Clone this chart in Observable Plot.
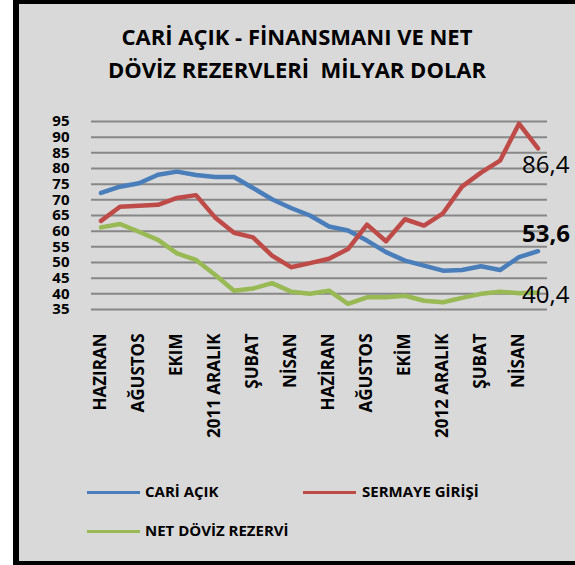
<!DOCTYPE html>
<html><head><meta charset="utf-8">
<script src="https://cdn.jsdelivr.net/npm/d3@7"></script>
<script src="https://cdn.jsdelivr.net/npm/@observablehq/plot@0.6"></script>
<style>
body{margin:0;background:#fff;}
#wrap{position:relative;width:575px;height:565px;overflow:hidden;background:#fff;font-family:"Open Sans",sans-serif;}
#panel{position:absolute;left:13px;top:0;width:562px;height:565px;background:#d9d9d9;box-sizing:border-box;border-top:4px solid #000;border-left:6px solid #000;border-bottom:4px solid #000;}
#title{position:absolute;left:19px;width:556px;top:20px;text-align:center;font-weight:700;font-size:22px;line-height:33px;color:#000;}
#chart{position:absolute;left:0;top:0;}
.leg{position:absolute;font-weight:700;font-size:15px;color:#000;white-space:nowrap;}
.sw{position:absolute;height:3px;width:53px;}
</style></head><body>
<div id="wrap"><div id="panel"></div>
<div id="title">CARİ AÇIK - FİNANSMANI VE NET<br>DÖVİZ REZERVLERİ&nbsp; MİLYAR DOLAR</div>
<div id="chart"></div>
<div class="sw" style="left:87px;top:491px;background:#4a7ebb"></div><div class="leg" style="left:145px;top:481px">CARİ AÇIK</div>
<div class="sw" style="left:303px;top:491px;background:#be4b48"></div><div class="leg" style="left:362px;top:481px">SERMAYE GİRİŞİ</div>
<div class="sw" style="left:87px;top:530px;background:#98b954"></div><div class="leg" style="left:145px;top:520px">NET DÖVİZ REZERVİ</div>
</div>
<script>
const months = ["HAZIRAN","TEMMUZ","AĞUSTOS","EYLÜL","EKIM","KASIM","2011 ARALIK","OCAK","ŞUBAT","MART","NİSAN","MAYIS","HAZİRAN","TEMMUZ","AĞUSTOS","EYLÜL","EKİM","KASIM","2012 ARALIK","OCAK","ŞUBAT","MART","NİSAN","MAYIS"];
const cariAcik = [72.2,74.2,75.3,78.0,79.0,77.9,77.3,77.3,73.8,70.2,67.4,65.0,61.5,60.2,57.0,53.3,50.6,49.0,47.4,47.6,48.8,47.6,51.7,53.6];
const sermaye = [63.3,67.8,68.1,68.4,70.6,71.5,64.4,59.5,58.0,52.2,48.5,49.8,51.2,54.3,62.1,56.8,63.8,61.8,65.7,74.2,78.7,82.5,94.3,86.4];
const rezerv = [61.2,62.3,59.8,57.2,52.9,50.8,46.1,41.0,41.7,43.4,40.7,40.0,41.0,36.8,38.9,38.9,39.4,37.8,37.3,38.7,40.0,40.7,40.2,40.4];
const yTicks = [35,40,45,50,55,60,65,70,75,80,85,90,95];
const xTickIdx = [0,2,4,6,8,10,12,14,16,18,20,22];

const series = [
  {name:"CARİ AÇIK", values:cariAcik, color:"#4a7ebb"},
  {name:"SERMAYE GİRİŞİ", values:sermaye, color:"#be4b48"},
  {name:"NET DÖVİZ REZERVİ", values:rezerv, color:"#98b954"}
];
const rows = series.flatMap(s => s.values.map((v,i)=>({i, v, name:s.name, color:s.color})));
const last = series.map(s => ({i:s.values.length-1, v:s.values[s.values.length-1], name:s.name}));
const fmt = v => String(v).replace(".", ",");

const plot = Plot.plot({
  width:575, height:565,
  marginLeft:91, marginRight:28, marginTop:121, marginBottom:256,
  style:{background:"transparent", fontFamily:"Open Sans, sans-serif"},
  x:{type:"linear", domain:[-0.5, 23.5], axis:null},
  y:{domain:[35,95], axis:null},
  marks:[
    Plot.ruleY(yTicks, {stroke:"#878787", strokeWidth:2}),
    Plot.axisY({ticks:yTicks, label:null, tickSize:0, tickPadding:22, fontSize:15, fontWeight:700, fill:"#000", tickFormat:d=>d}),
    Plot.axisX({ticks:xTickIdx, label:null, tickSize:0, tickPadding:24, tickRotate:-90, fontSize:17, fontWeight:700, fill:"#000", tickFormat:i=>months[i]}),
    Plot.line(rows, {x:"i", y:"v", z:"name", stroke:"color", strokeWidth:4.5, strokeLinejoin:"round", strokeLinecap:"round"}),
    Plot.text([last[1]], {x:"i", y:"v", text:d=>fmt(d.v), textAnchor:"start", dx:-16, dy:17, fontSize:24, fill:"#000"}),
    Plot.text([last[0]], {x:"i", y:"v", text:d=>fmt(d.v), textAnchor:"start", dx:-16, dy:-17, fontSize:24, fontWeight:700, fill:"#000"}),
    Plot.text([last[2]], {x:"i", y:"v", text:d=>fmt(d.v), textAnchor:"start", dx:-16, dy:3, fontSize:24, fill:"#000"})
  ]
});
document.getElementById("chart").appendChild(plot);
</script>
</body></html>
